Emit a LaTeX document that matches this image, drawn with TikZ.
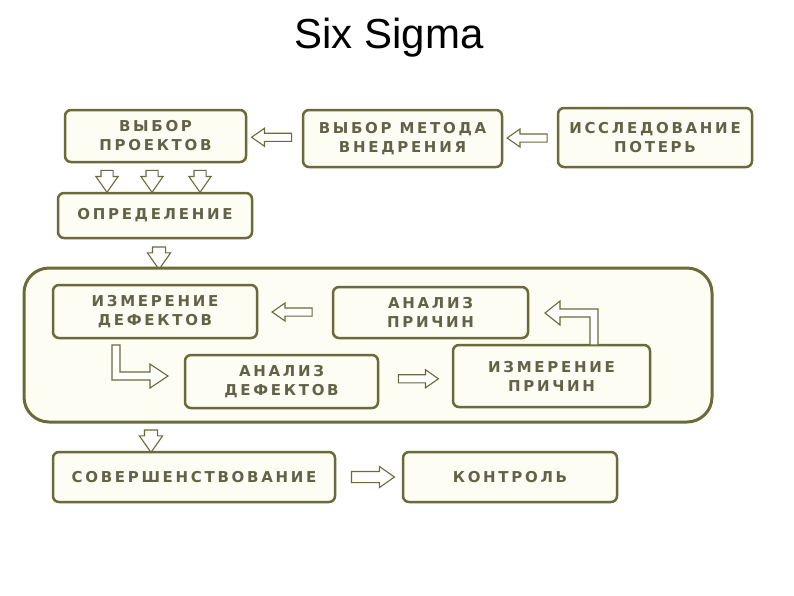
\documentclass[tikz,border=0pt]{standalone}
\usepackage{fontspec}
\setmainfont{Liberation Sans}
\newfontfamily\boxfont[LetterSpace=18]{DejaVu Sans}
\usetikzlibrary{shapes.arrows,calc}
\definecolor{olivebd}{HTML}{6B6A3A}
\definecolor{olivetxt}{HTML}{626249}
\definecolor{creamfill}{HTML}{FDFDF4}
\tikzset{
  stepbox/.style={draw=olivebd, line width=2.5pt, rounded corners=6pt, fill=creamfill,
    text=olivetxt, align=center, inner sep=0pt,
    font=\boxfont\bfseries\fontsize{15}{19}\selectfont},
  harrow/.style={single arrow, draw=olivebd, line width=1.1pt, fill=white,
    inner sep=3.5pt, single arrow head extend=5pt, single arrow tip angle=70,
    minimum height=40pt},
  varrow/.style={harrow, shape border rotate=270, inner sep=5.5pt,
    single arrow head extend=5pt, minimum height=22pt},
  larrow/.style={draw=olivebd, line width=1.1pt, fill=white, line join=miter}
}
\begin{document}
\begin{tikzpicture}[x=1pt, y=-1pt]
  \useasboundingbox[fill=white] (0,0) rectangle (794,595);
  \node[font=\fontsize{42}{48}\selectfont, anchor=base] (title) at (389,48) {Six Sigma};

  % verkhnii riad
  \node[stepbox, minimum width=181, minimum height=52] (sel) at (155.5,136) {ВЫБОР\\ПРОЕКТОВ};
  \node[stepbox, minimum width=199, minimum height=57] (meth) at (402.5,138.5) {ВЫБОР МЕТОДА\\ВНЕДРЕНИЯ};
  \node[stepbox, minimum width=194, minimum height=59] (loss) at (655,137.5) {ИССЛЕДОВАНИЕ\\ПОТЕРЬ};
  \node[harrow, shape border rotate=180] (a1) at ($(sel.east)!0.5!(meth.west)$) {};
  \node[harrow, shape border rotate=180] (a2) at ($(meth.east)!0.5!(loss.west)$) {};
  \foreach \x [count=\i] in {107,152,200} {
    \node[varrow] (d\i) at (\x,177) {};
  }
  \node[stepbox, minimum width=194, minimum height=45] (defn) at (155,215.5) {ОПРЕДЕЛЕНИЕ};
  \node[varrow, inner sep=6pt] (d4) at (159,253.5) {};

  % tsikl izmerenii
  \node[stepbox, line width=3pt, rounded corners=25pt, minimum width=688, minimum height=154] (loop) at (368,345) {};
  \node[stepbox, minimum width=204, minimum height=53] (mdef) at (155,311.5) {ИЗМЕРЕНИЕ\\ДЕФЕКТОВ};
  \node[stepbox, minimum width=195, minimum height=51] (acause) at (430.5,312.5) {АНАЛИЗ\\ПРИЧИН};
  \node[stepbox, minimum width=193, minimum height=53] (adef) at (281.5,381.5) {АНАЛИЗ\\ДЕФЕКТОВ};
  \node[stepbox, minimum width=197, minimum height=62] (mcause) at (551.5,376) {ИЗМЕРЕНИЕ\\ПРИЧИН};
  \node[harrow, shape border rotate=180] (a3) at ($(mdef.east)!0.5!(acause.west)$) {};
  \node[harrow] (a4) at ($(adef.east)!0.5!(mcause.west)$) {};
  \draw[larrow] (112,345) -- (120,345) -- (120,372) -- (150,372) -- (150,364)
    -- (168,376) -- (150,388) -- (150,380) -- (112,380) -- cycle;
  \draw[larrow] (590,345) -- (598,345) -- (598,309) -- (560,309) -- (560,301)
    -- (545,313) -- (560,325) -- (560,317) -- (590,317) -- cycle;

  % nizhnii riad
  \node[varrow, inner sep=6pt] (d5) at (151,436.5) {};
  \node[stepbox, minimum width=282, minimum height=50] (impr) at (194,477) {СОВЕРШЕНСТВОВАНИЕ};
  \node[stepbox, minimum width=214, minimum height=50] (ctrl) at (510,477) {КОНТРОЛЬ};
  \node[harrow, inner sep=5pt, minimum height=43pt] (a5) at ($(impr.east)!0.5!(ctrl.west)$) {};
\end{tikzpicture}
\end{document}
